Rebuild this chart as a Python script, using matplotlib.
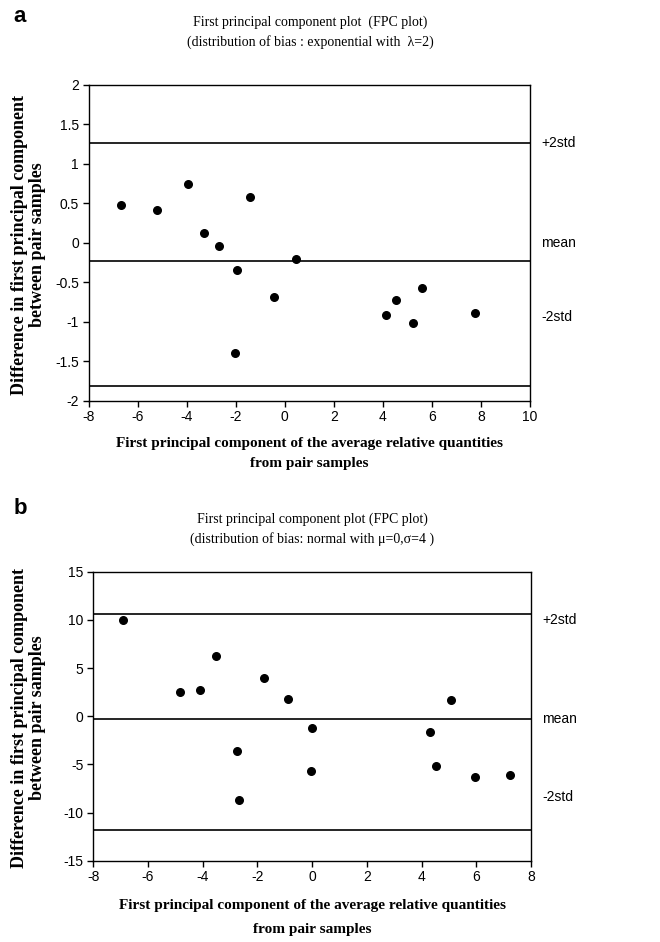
import matplotlib
matplotlib.use("Agg")
import matplotlib.pyplot as plt
import numpy as np

plt.rcParams['axes.unicode_minus'] = False

# Panel a data
a_x = [-6.68, -5.21, -3.95, -3.28, -2.68, -1.95, -1.44, -0.44, 0.45, -2.04, 4.11, 4.54, 5.21, 5.60, 7.76]
a_y = [0.475, 0.42, 0.74, 0.13, -0.04, -0.345, 0.58, -0.69, -0.21, -1.39, -0.915, -0.72, -1.01, -0.577, -0.885]
a_lines = [1.27, -0.23, -1.81]
a_line_labels = ["+2std", "mean", "-2std"]
a_label_y = [1.27, 0.0, -0.94]
a_xticks = [-8, -6, -4, -2, 0, 2, 4, 6, 8, 10]
a_yticks = [-2, -1.5, -1, -0.5, 0, 0.5, 1, 1.5, 2]

# Panel b data
b_x = [-6.90, -4.83, -4.11, -3.50, -1.75, -0.89, 0.0, 4.29, 5.08, -2.76, -2.69, -0.05, 4.51, 5.97, 7.24]
b_y = [10.0, 2.47, 2.71, 6.28, 4.0, 1.75, -1.2, -1.6, 1.63, -3.65, -8.67, -5.7, -5.22, -6.29, -6.11]
b_lines = [10.64, -0.26, -11.85]
b_line_labels = ["+2std", "mean", "-2std"]
b_label_y = [10.0, -0.3, -8.4]
b_xticks = [-8, -6, -4, -2, 0, 2, 4, 6, 8]
b_yticks = [-15, -10, -5, 0, 5, 10, 15]

titles = [
    ["First principal component plot  (FPC plot)", "(distribution of bias : exponential with  \u03bb=2)"],
    ["First principal component plot (FPC plot)", "(distribution of bias: normal with \u03bc=0,\u03c3=4 )"],
]
xlabel = ["First principal component of the average relative quantities", "from pair samples"]
ylabel = ["Difference in first principal component", "between pair samples"]

W, H = 660, 942
fig = plt.figure(figsize=(W / 100, H / 100), dpi=100)

serif = "Liberation Serif"
sans = "Liberation Sans"

def px(x0, y0, x1, y1):
    return [x0 / W, 1 - y1 / H, (x1 - x0) / W, (y1 - y0) / H]

def ftext(x, y, s, **kw):
    fig.text(x / W, 1 - y / H, s, **kw)

panels = [
    dict(rect=px(88.7, 85, 530, 400.7), x=a_x, y=a_y, lines=a_lines, labels=a_line_labels,
         label_y=a_label_y, xt=a_xticks, yt=a_yticks, xlim=(-8, 10), ylim=(-2, 2),
         letter="a", letter_y=16, title_y=(22, 42), xl_y=(443, 464), yl_x=(20, 38), yl_c=245,
         title=titles[0], tcx=310),
    dict(rect=px(93.3, 571.7, 531, 860.7), x=b_x, y=b_y, lines=b_lines, labels=b_line_labels,
         label_y=b_label_y, xt=b_xticks, yt=b_yticks, xlim=(-8, 8), ylim=(-15, 15),
         letter="b", letter_y=509, title_y=(519, 539), xl_y=(906, 929), yl_x=(20, 38), yl_c=718,
         title=titles[1], tcx=312),
]

for p in panels:
    ax = fig.add_axes(p["rect"])
    ax.set_xlim(*p["xlim"])
    ax.set_ylim(*p["ylim"])
    ax.set_xticks(p["xt"])
    ax.set_yticks(p["yt"])
    ax.set_xticklabels([f"{v:g}" for v in p["xt"]], fontfamily=sans, fontsize=10)
    ax.set_yticklabels([f"{v:g}" for v in p["yt"]], fontfamily=sans, fontsize=10)
    ax.tick_params(direction="out", length=4, width=1, pad=3)
    for s in ax.spines.values():
        s.set_linewidth(1)
        s.set_color("black")
    for ly in p["lines"]:
        ax.axhline(ly, color="black", lw=1.2)
    ax.scatter(p["x"], p["y"], s=30, color="black", zorder=3)
    for lab, ly in zip(p["labels"], p["label_y"]):
        ax.text(1.025, ly, lab, transform=ax.get_yaxis_transform(), ha="left", va="center",
                fontfamily=sans, fontsize=10)
    cx = (p["rect"][0] + p["rect"][2] / 2) * W
    for line, yy in zip(p["title"], p["title_y"]):
        ftext(p["tcx"], yy, line, fontfamily=serif, fontsize=10, ha="center", va="center")
    for line, yy in zip(xlabel, p["xl_y"]):
        ftext(cx, yy, line, fontfamily=serif, fontsize=11, fontweight="bold", ha="center", va="center")
    for line, xx in zip(ylabel, p["yl_x"]):
        ftext(xx, p["yl_c"], line, fontfamily=serif, fontsize=13, fontweight="bold", ha="center",
              va="center", rotation=90)
    ftext(20, p["letter_y"], p["letter"], fontfamily=sans, fontweight="bold",
          fontsize=16, ha="center", va="center")

fig.savefig("out.png", dpi=100)
